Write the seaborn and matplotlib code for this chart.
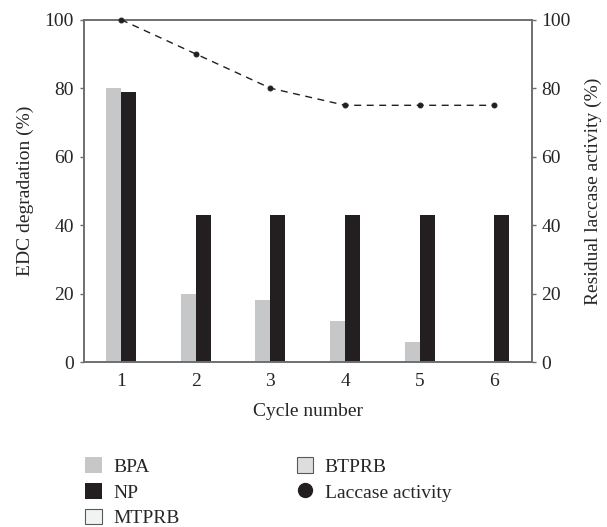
import matplotlib
matplotlib.use("Agg")
import matplotlib.pyplot as plt
from matplotlib.patches import Patch
from matplotlib.lines import Line2D
import seaborn as sns
import pandas as pd

cycles = ["1", "2", "3", "4", "5", "6"]
bpa = [80, 20, 18, 12, 6, 0]
np_vals = [79, 43, 43, 43, 43, 43]
laccase = [100, 90, 80, 75, 75, 75]
y_ticks = [0, 20, 40, 60, 80, 100]

sns.set_theme(style="white")
plt.rcParams["font.family"] = ["Liberation Serif", "DejaVu Serif"]

df = pd.DataFrame({
    "cycle": cycles * 2,
    "value": bpa + np_vals,
    "compound": ["BPA"] * 6 + ["NP"] * 6,
})
df_lac = pd.DataFrame({"cycle": cycles, "lac": laccase})

c_bpa = "#c6c7c9"
c_np = "#231f20"
spine_c = "#6d6e70"
fs = 14

fig = plt.figure(figsize=(6.07, 5.27), dpi=100)
ax = fig.add_axes([0.138, 0.313, 0.738, 0.6496])

sns.barplot(data=df, x="cycle", y="value", hue="compound",
            palette={"BPA": c_bpa, "NP": c_np}, width=0.4,
            linewidth=0, saturation=1, ax=ax, legend=False)
ax.set_ylim(0, 100)
ax.set_yticks(y_ticks)
ax.set_xlabel("Cycle number", fontsize=fs, labelpad=9)
ax.set_ylabel("EDC degradation (%)", fontsize=fs, labelpad=8)

ax2 = ax.twinx()
sns.pointplot(data=df_lac, x="cycle", y="lac", ax=ax2, color="#231f20",
              linestyles="--", markers="o", markersize=3.5, linewidth=1)
ax2.set_ylim(0, 100)
ax2.set_yticks(y_ticks)
ax2.set_xlim(-0.5, 5.5)
ax2.set_ylabel("Residual laccase activity (%)", fontsize=fs, labelpad=10)
for line in ax2.lines:
    line.set_dashes([5, 4])
    line.set_linewidth(1)
    line.set_clip_on(False)
    line.set_zorder(5)
for coll in ax2.collections:
    coll.set_clip_on(False)

for a in (ax, ax2):
    for s in a.spines.values():
        s.set_color(spine_c)
        s.set_linewidth(1.2)
        s.set_visible(True)
    a.tick_params(axis="y", direction="out", length=3, width=1, color=spine_c,
                  labelsize=fs, pad=4)
    a.tick_params(axis="x", length=0, labelsize=fs, pad=8)
ax.tick_params(axis="y", left=True)
ax2.tick_params(axis="y", right=True)

handles = [
    Patch(facecolor=c_bpa, edgecolor="none", label="BPA"),
    Patch(facecolor=c_np, edgecolor="none", label="NP"),
    Patch(facecolor="#f1f2f2", edgecolor="#58595b", linewidth=0.8, label="MTPRB"),
    Patch(facecolor="#dcddde", edgecolor="#58595b", linewidth=0.8, label="BTPRB"),
    Line2D([], [], marker="o", color="none", markerfacecolor="#231f20",
           markeredgecolor="#231f20", markersize=10, label="Laccase activity"),
]
fig.legend(handles=handles, ncol=2, loc="upper left",
           bbox_to_anchor=(0.115, 0.162), frameon=False, fontsize=fs,
           handlelength=0.85, handleheight=0.85, handletextpad=0.6,
           columnspacing=6.0, labelspacing=0.38, borderpad=0.3)

fig.savefig("out.png", dpi=100)
